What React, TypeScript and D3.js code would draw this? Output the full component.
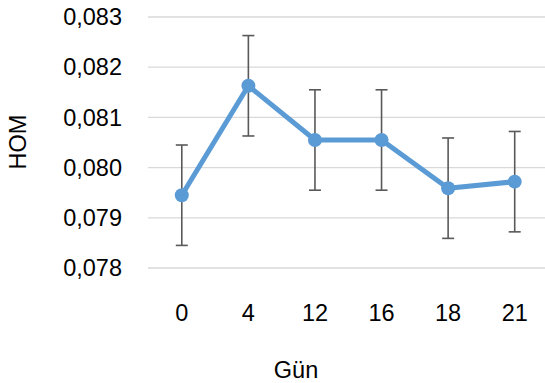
import React from 'react'
import * as d3 from 'd3'

const days = ['0', '4', '12', '16', '18', '21']
const hom = [0.07945, 0.08163, 0.08055, 0.08055, 0.07959, 0.07972]
const errors = [0.001, 0.001, 0.001, 0.001, 0.001, 0.001]
const yTicks = [0.078, 0.079, 0.08, 0.081, 0.082, 0.083]

const width = 545
const height = 383
const font = 'Liberation Sans, Arial, sans-serif'

export default function App () {
  const x = d3.scaleBand().domain(days).range([148.5, 548])
  const y = d3.scaleLinear().domain([0.078, 0.083]).range([268, 17])
  const fmt = (v: number) => d3.format('.3f')(v).replace('.', ',')
  const cx = (d: string) => (x(d) as number) + x.bandwidth() / 2

  const line = d3.line<number>()
    .x((_, i) => cx(days[i]))
    .y(d => y(d))

  return (
    <svg width={width} height={height} style={{ position: 'absolute', left: 0, top: 0 }}>
      <rect width={width} height={height} fill='#fff' />
      {yTicks.map(t => (
        <g key={t}>
          <line x1={148} x2={width} y1={y(t)} y2={y(t)} stroke='#d9d9d9' strokeWidth={1.3} />
          <text x={122} y={y(t)} dy='0.35em' textAnchor='end' fontFamily={font} fontSize={23.5} fill='#000'>
            {fmt(t)}
          </text>
        </g>
      ))}
      {days.map(d => (
        <text key={d} x={cx(d)} y={313} dy='0.35em' textAnchor='middle' fontFamily={font} fontSize={23.5} fill='#000'>
          {d}
        </text>
      ))}
      {hom.map((v, i) => {
        const px = cx(days[i])
        const top = y(v + errors[i])
        const bot = y(v - errors[i])
        return (
          <g key={i} stroke='#595959' strokeWidth={1.6}>
            <line x1={px} x2={px} y1={top} y2={bot} />
            <line x1={px - 6} x2={px + 6} y1={top} y2={top} />
            <line x1={px - 6} x2={px + 6} y1={bot} y2={bot} />
          </g>
        )
      })}
      <path d={line(hom) || ''} fill='none' stroke='#5b9bd5' strokeWidth={5} strokeLinejoin='round' />
      {hom.map((v, i) => (
        <circle key={i} cx={cx(days[i])} cy={y(v)} r={7} fill='#5b9bd5' />
      ))}
      <text x={296} y={370} dy='0.35em' textAnchor='middle' fontFamily={font} fontSize={23.5} fill='#000'>
        Gün
      </text>
      <text transform='translate(18,142) rotate(-90)' dy='0.35em' textAnchor='middle' fontFamily={font} fontSize={23.5} fill='#000'>
        HOM
      </text>
    </svg>
  )
}
